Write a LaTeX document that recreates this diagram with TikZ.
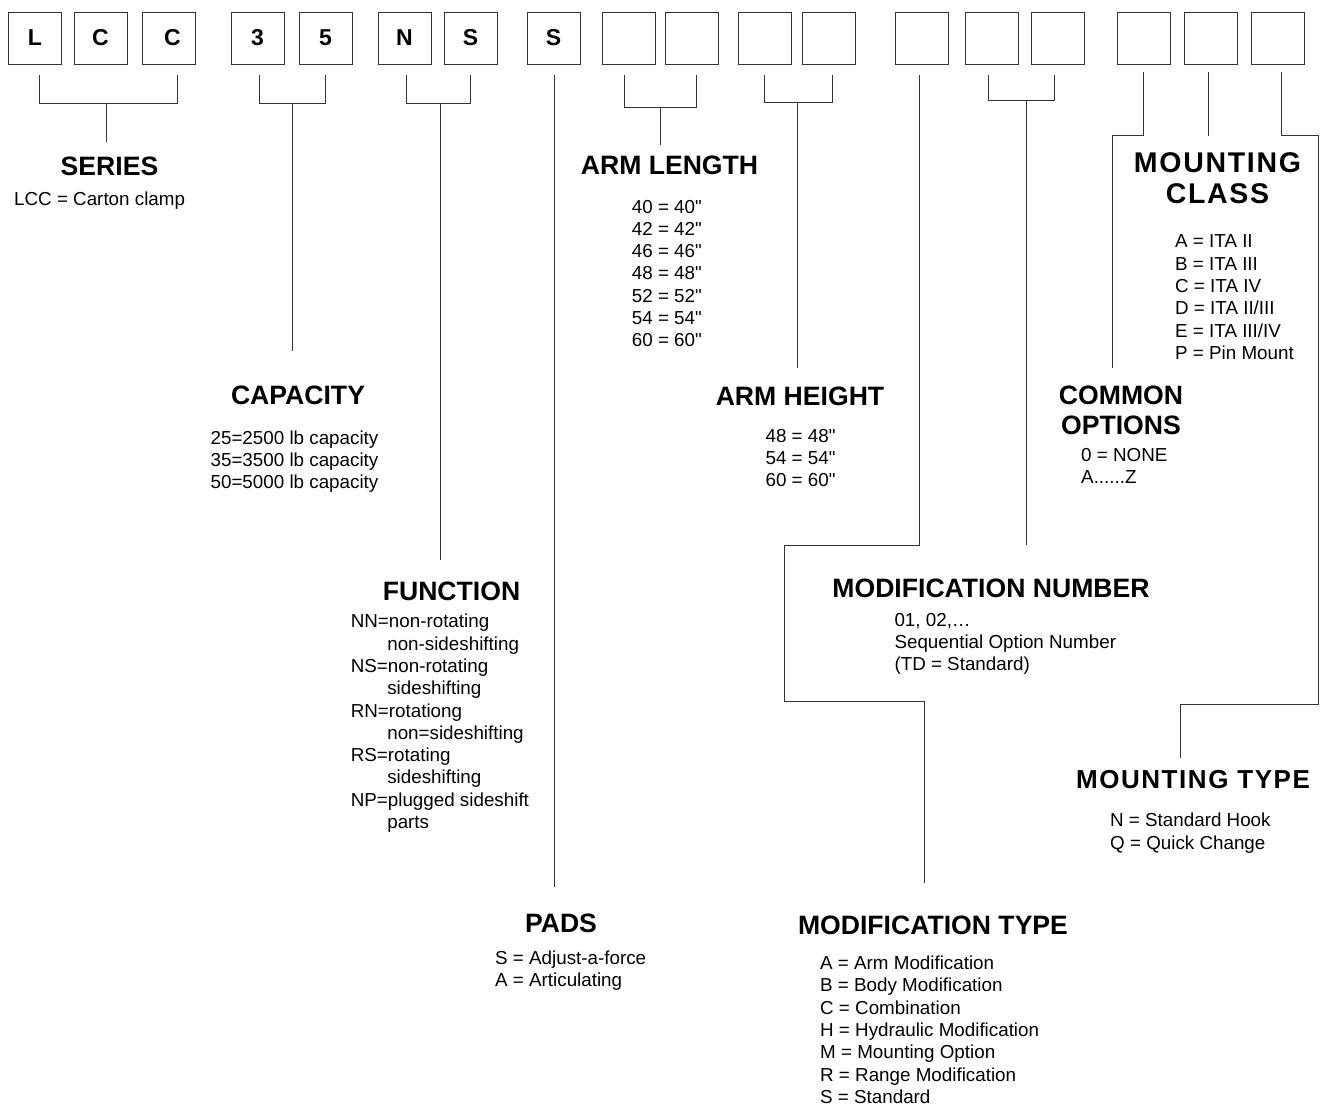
\documentclass[tikz,border=0pt]{standalone}
\usepackage{fontspec}
\setmainfont{Liberation Sans}
\newfontfamily\spacedfont[LetterSpace=6]{Liberation Sans}
\newcommand{\inch}{\XeTeXglyph\XeTeXcharglyph"22\relax}

\begin{document}
\begin{tikzpicture}[
        x=1pt,y=-1pt,
        digit/.style={draw=black!80, line width=0.8pt, minimum width=53pt, minimum height=52pt,
          inner sep=0pt, font=\fontsize{23}{27}\selectfont\bfseries},
        heading/.style={inner sep=0pt, align=center, font=\fontsize{26.6}{30}\selectfont\bfseries},
        spaced/.style={inner sep=0pt, align=center, font=\spacedfont\fontsize{26}{31}\selectfont\bfseries},
        codes/.style={inner sep=0pt, anchor=north west, align=left, font=\fontsize{18.8}{22.3}\selectfont},
        link/.style={draw=black!80, line width=0.8pt},
        ]
        \useasboundingbox (0,0) rectangle (1320,1106);

        % code boxes
        \node[digit] (b1)  at (35,38)     {L\hspace{10pt}};
        \node[digit] (b2)  at (100.5,38)  {C};
        \node[digit] (b3)  at (168.5,38)  {\hspace{8pt}C};
        \node[digit] (b4)  at (257.5,38)  {3\hspace{7pt}};
        \node[digit] (b5)  at (325.5,38)  {5};
        \node[digit] (b6)  at (404.5,38)  {N};
        \node[digit] (b7)  at (470.5,38)  {S};
        \node[digit] (b8)  at (553.5,38)  {S\hspace{28pt}};
        \node[digit] (b9)  at (628.5,38)  {};
        \node[digit] (b10) at (691.5,38)  {};
        \node[digit] (b11) at (764.5,38)  {};
        \node[digit] (b12) at (828.5,38)  {};
        \node[digit] (b13) at (921.5,38)  {};
        \node[digit] (b14) at (991.5,38)  {};
        \node[digit] (b15) at (1057.5,38) {};
        \node[digit] (b16) at (1143.5,38) {};
        \node[digit] (b17) at (1210.5,38) {};
        \node[digit] (b18) at (1277.5,38) {};

        % headings
        \node[heading] (series)     at (109.5,166) {SERIES};
        \node[heading] (capacity)   at (298,395)   {CAPACITY};
        \node[heading] (function)   at (451.5,591.5) {FUNCTION};
        \node[heading] (pads)       at (561,923.5) {PADS};
        \node[heading] (armlength)  at (669.5,165) {ARM LENGTH};
        \node[heading] (armheight)  at (800,396)   {ARM HEIGHT};
        \node[heading] (modnumber)  at (991,588)   {MODIFICATION NUMBER};
        \node[heading] (modtype)    at (933,925)   {MODIFICATION TYPE};
        \node[heading] (common)     at (1121,410)  {COMMON\\OPTIONS};
        \node[spaced, font=\spacedfont\fontsize{28.5}{31}\selectfont\bfseries]
                       (mountclass) at (1217.5,178) {MOUNTING\\CLASS};
        \node[spaced]  (mounttype)  at (1193,780)  {MOUNTING TYPE};

        % code lists
        \node[codes] (series-list)     at (14,191.3)    {LCC = Carton clamp};
        \node[codes] (capacity-list)   at (210.4,430.3) {25=2500 lb capacity\\35=3500 lb capacity\\50=5000 lb capacity};
        \node[codes] (function-list)   at (350.6,614)   {NN=non-rotating\\\hspace*{36.5pt}non-sideshifting\\
          NS=non-rotating\\\hspace*{36.5pt}sideshifting\\RN=rotationg\\\hspace*{36.5pt}non=sideshifting\\
          RS=rotating\\\hspace*{36.5pt}sideshifting\\NP=plugged sideshift\\\hspace*{36.5pt}parts};
        \node[codes] (pads-list)       at (495,950.3)   {S = Adjust-a-force\\A = Articulating};
        \node[codes] (armlength-list)  at (631.7,199.7) {40 = 40\inch\\42 = 42\inch\\46 = 46\inch\\48 = 48\inch\\
          52 = 52\inch\\54 = 54\inch\\60 = 60\inch};
        \node[codes] (armheight-list)  at (765.4,429)   {48 = 48\inch\\54 = 54\inch\\60 = 60\inch};
        \node[codes] (modnumber-list)  at (894.3,613)   {01, 02,…\\Sequential Option Number\\(TD = Standard)};
        \node[codes] (modtype-list)    at (820,955.7)   {A = Arm Modification\\B = Body Modification\\C = Combination\\
          H = Hydraulic Modification\\M = Mounting Option\\R = Range Modification\\S = Standard};
        \node[codes] (common-list)     at (1081,448)    {0 = NONE\\A......Z};
        \node[codes] (mountclass-list) at (1175,234.7)  {A = ITA II\\B = ITA III\\C = ITA IV\\D = ITA II/III\\E = ITA III/IV\\P = Pin Mount};
        \node[codes] (mounttype-list)  at (1110,813)    {N = Standard Hook\\Q = Quick Change};

        % free ends of the leaders
        \coordinate (series-in)     at (106,142);
        \coordinate (capacity-in)   at (292.5,351);
        \coordinate (function-in)   at (440.5,560);
        \coordinate (pads-in)       at (554.5,887);
        \coordinate (armlength-in)  at (660,145);
        \coordinate (armheight-in)  at (797.5,368);
        \coordinate (modtype-a)     at (784,545);
        \coordinate (modtype-b)     at (924,701);
        \coordinate (modtype-in)    at (924,883);
        \coordinate (modnumber-in)  at (1026,545);
        \coordinate (common-a)      at (1112,135);
        \coordinate (common-in)     at (1112,368);
        \coordinate (mountclass-in) at (1208,136);
        \coordinate (mounttype-a)   at (1318.5,135);
        \coordinate (mounttype-b)   at (1180,704);
        \coordinate (mounttype-in)  at (1180,758);

        % leaders
        \draw[link] ([xshift=4pt,yshift=-11pt]b1.south) |- ([xshift=8.5pt,yshift=-39pt]b3.south)
          -- ([xshift=8.5pt,yshift=-11pt]b3.south);
        \draw[link] ([xshift=71pt,yshift=-39pt]b1.south) -- (series-in);
        \draw[link] ([xshift=1.5pt,yshift=-11pt]b4.south) |- ([yshift=-39pt]b5.south) -- ([yshift=-11pt]b5.south);
        \draw[link] ([xshift=35pt,yshift=-39pt]b4.south) -- (capacity-in);
        \draw[link] ([xshift=2pt,yshift=-11pt]b6.south) |- ([yshift=-39pt]b7.south) -- ([yshift=-11pt]b7.south);
        \draw[link] ([xshift=36pt,yshift=-39pt]b6.south) -- (function-in);
        \draw[link] ([xshift=1pt,yshift=-11pt]b8.south) -- (pads-in);
        \draw[link] ([xshift=-4pt,yshift=-11pt]b9.south) |- ([xshift=5pt,yshift=-43pt]b10.south)
          -- ([xshift=5pt,yshift=-11pt]b10.south);
        \draw[link] ([xshift=31.5pt,yshift=-43pt]b9.south) -- (armlength-in);
        \draw[link] ([xshift=-0.5pt,yshift=-11pt]b11.south) |- ([xshift=4pt,yshift=-38pt]b12.south)
          -- ([xshift=4pt,yshift=-11pt]b12.south);
        \draw[link] ([xshift=33pt,yshift=-38pt]b11.south) -- (armheight-in);
        \draw[link] ([xshift=-2.5pt,yshift=-11pt]b13.south) |- (modtype-a) |- (modtype-b) -- (modtype-in);
        \draw[link] ([xshift=-3.5pt,yshift=-11pt]b14.south) |- ([xshift=-3.5pt,yshift=-36pt]b15.south)
          -- ([xshift=-3.5pt,yshift=-11pt]b15.south);
        \draw[link] ([xshift=34.5pt,yshift=-36pt]b14.south) -- (modnumber-in);
        \draw[link] ([xshift=-0.5pt,yshift=-8pt]b16.south) |- (common-a) -- (common-in);
        \draw[link] ([xshift=-2.5pt,yshift=-8pt]b17.south) -- (mountclass-in);
        \draw[link] ([xshift=3.5pt,yshift=-8pt]b18.south) |- (mounttype-a) |- (mounttype-b) -- (mounttype-in);
      \end{tikzpicture}
\end{document}
